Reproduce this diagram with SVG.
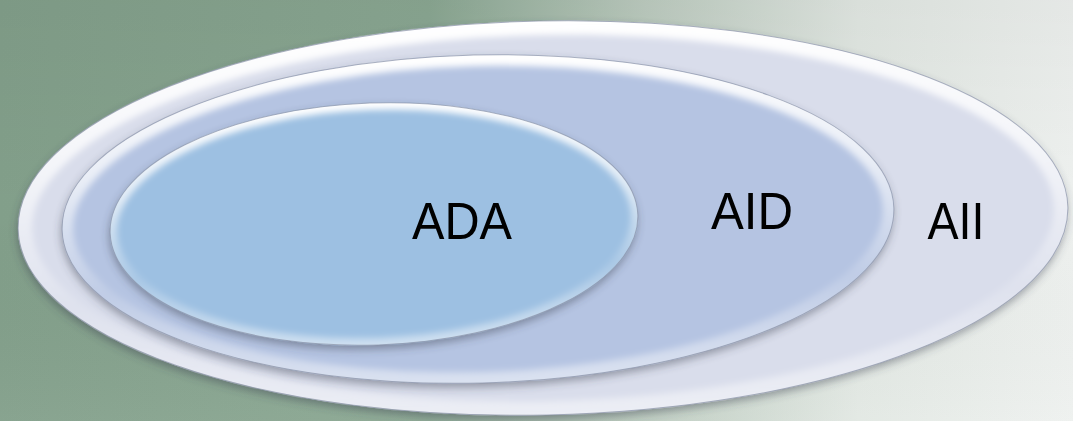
<svg xmlns="http://www.w3.org/2000/svg" width="1073" height="421" viewBox="0 0 1073 421">
  <defs>
    <linearGradient id="bg" x1="0" y1="0" x2="1" y2="0">
      <stop offset="0" stop-color="#829f8a"/>
      <stop offset="0.4" stop-color="#8aa792"/>
      <stop offset="0.6" stop-color="#bccbbf"/>
      <stop offset="0.8" stop-color="#e2e8e3"/>
      <stop offset="1" stop-color="#eef1ef"/>
    </linearGradient>
    <linearGradient id="bgShade" x1="0" y1="0" x2="0" y2="1">
      <stop offset="0" stop-color="#000" stop-opacity="0.04"/>
      <stop offset="0.5" stop-color="#000" stop-opacity="0"/>
      <stop offset="1" stop-color="#fff" stop-opacity="0.05"/>
    </linearGradient>
    <linearGradient id="rim" x1="0" y1="0" x2="0" y2="1">
      <stop offset="0" stop-color="#ffffff" stop-opacity="1"/>
      <stop offset="0.35" stop-color="#ffffff" stop-opacity="0.7"/>
      <stop offset="0.7" stop-color="#ffffff" stop-opacity="0.15"/>
      <stop offset="1" stop-color="#ffffff" stop-opacity="0.5"/>
    </linearGradient>
    <filter id="shadow" x="-10%" y="-10%" width="120%" height="130%">
      <feDropShadow dx="-1" dy="4" stdDeviation="4" flood-color="#3a4250" flood-opacity="0.45"/>
    </filter>
    <filter id="soft" x="-10%" y="-10%" width="120%" height="120%">
      <feGaussianBlur stdDeviation="3"/>
    </filter>
    <clipPath id="cOuter"><ellipse cx="543" cy="218" rx="525" ry="197" transform="rotate(-1.2 543 218)"/></clipPath>
    <clipPath id="cMid"><ellipse cx="478" cy="219" rx="416" ry="164" transform="rotate(-1.5 478 219)"/></clipPath>
    <clipPath id="cInner"><ellipse cx="374" cy="224" rx="264" ry="121" transform="rotate(-2 374 224)"/></clipPath>
  </defs>
  <style>
    .lbl { font-family: "Liberation Sans", Arial, sans-serif; font-size: 52px; fill: #000; text-anchor: middle; }
    .edge { fill: none; stroke: #8a93a8; stroke-width: 1; stroke-opacity: 0.7; }
    .rim { fill: none; stroke: url(#rim); stroke-width: 18; filter: url(#soft); }
  </style>

  <rect width="1073" height="421" fill="url(#bg)"/>
  <rect width="1073" height="421" fill="url(#bgShade)"/>

  <g id="node-AII">
    <ellipse cx="543" cy="218" rx="525" ry="197" transform="rotate(-1.2 543 218)" fill="#d9ddeb" filter="url(#shadow)"/>
    <g clip-path="url(#cOuter)">
      <ellipse class="rim" cx="543" cy="218" rx="525" ry="197" transform="rotate(-1.2 543 218)" style="stroke-width:28"/>
    </g>
    <ellipse class="edge" cx="543" cy="218" rx="525" ry="197" transform="rotate(-1.2 543 218)"/>
    <text class="lbl" x="956" y="239" textLength="57" lengthAdjust="spacingAndGlyphs">AII</text>
  </g>

  <g id="node-AID">
    <ellipse cx="478" cy="219" rx="416" ry="164" transform="rotate(-1.5 478 219)" fill="#b5c4e2" filter="url(#shadow)"/>
    <g clip-path="url(#cMid)">
      <ellipse class="rim" cx="478" cy="219" rx="416" ry="164" transform="rotate(-1.5 478 219)" style="stroke-width:22"/>
    </g>
    <ellipse class="edge" cx="478" cy="219" rx="416" ry="164" transform="rotate(-1.5 478 219)"/>
    <text class="lbl" x="752" y="229" textLength="82" lengthAdjust="spacingAndGlyphs">AID</text>
  </g>

  <g id="node-ADA">
    <ellipse cx="374" cy="224" rx="264" ry="121" transform="rotate(-2 374 224)" fill="#9dc0e2" filter="url(#shadow)"/>
    <g clip-path="url(#cInner)">
      <ellipse class="rim" cx="374" cy="224" rx="264" ry="121" transform="rotate(-2 374 224)" style="stroke-width:14"/>
    </g>
    <ellipse class="edge" cx="374" cy="224" rx="264" ry="121" transform="rotate(-2 374 224)"/>
    <text class="lbl" x="462" y="239" textLength="100" lengthAdjust="spacingAndGlyphs">ADA</text>
  </g>

  <g id="connectors"/>
</svg>
